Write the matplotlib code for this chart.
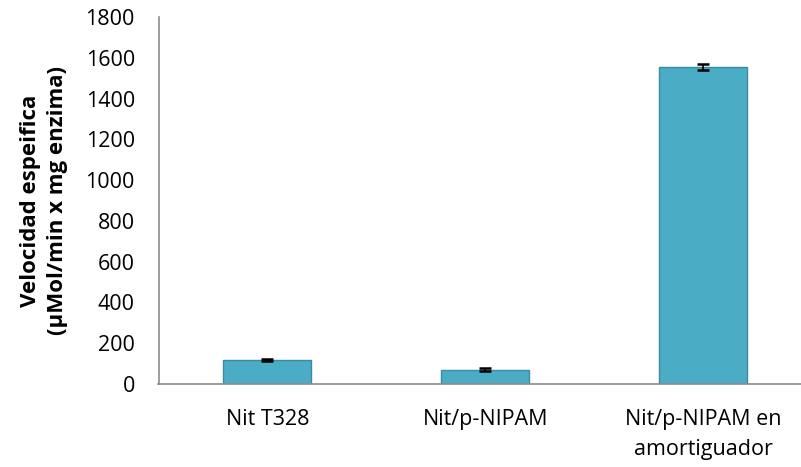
import matplotlib
matplotlib.use("Agg")
import matplotlib.pyplot as plt

plt.rcParams['font.family'] = ['Open Sans', 'DejaVu Sans']

categories = ["Nit T328", "Nit/p-NIPAM", "Nit/p-NIPAM en\namortiguador"]
velocidad = [118, 70, 1553]
error = [3, 8, 15]
y_ticks = [0, 200, 400, 600, 800, 1000, 1200, 1400, 1600, 1800]

W, H = 801, 467
fig = plt.figure(figsize=(W / 100, H / 100), dpi=100)
left, right, top, bottom = 158.5, 812, 17, 384
ax = fig.add_axes([left / W, 1 - bottom / H, (right - left) / W, (bottom - top) / H])

x = list(range(len(categories)))
ax.bar(x, velocidad, width=0.404, color="#4BACC6", edgecolor="#3A8BA0", linewidth=1.0,
       yerr=error, error_kw=dict(ecolor="black", elinewidth=1.2, capsize=4, capthick=1.8),
       zorder=2)

ax.set_xlim(-0.5, 2.5)
ax.set_ylim(0, 1800)
ax.set_yticks(y_ticks)
ax.set_yticklabels([str(t) for t in y_ticks])
ax.set_xticks(x)
ax.set_xticklabels(categories, linespacing=1.55)

for s in ["top", "right"]:
    ax.spines[s].set_visible(False)
for s in ["left", "bottom"]:
    ax.spines[s].set_color("#8C8C8C")
    ax.spines[s].set_linewidth(1.2)

ax.tick_params(axis="y", length=0, pad=17, labelsize=15.5, labelcolor="black")
ax.tick_params(axis="x", length=0, pad=18, labelsize=15.5, labelcolor="black")

ax.set_ylabel("Velocidad espeifica\n(µMol/min x mg enzima)", fontsize=16,
              fontweight="bold", linespacing=1.4)
ax.yaxis.set_label_coords(-90 / (right - left), 0.5)

fig.savefig("out.png", dpi=100)
